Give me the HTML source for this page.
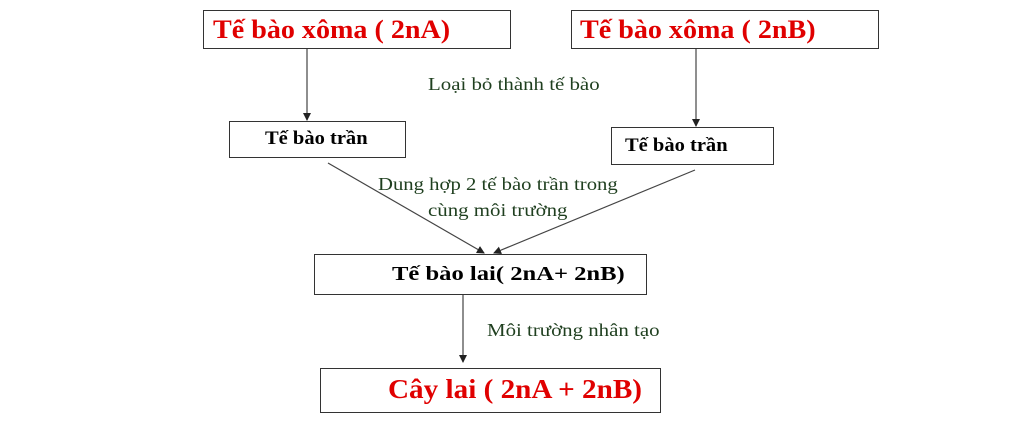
<!DOCTYPE html>
<html><head><meta charset="utf-8"><style>
body{margin:0;width:1023px;height:430px;background:#fff;position:relative;overflow:hidden;font-family:"Liberation Serif",serif}
.b{position:absolute;border:1.5px solid #333;box-sizing:border-box;background:#fff}
.t{position:absolute;white-space:nowrap;transform-origin:0 0}
.r{color:#e00000;font-weight:bold;font-size:26px;transform:scaleX(1.08)}
.k{color:#000;font-weight:bold;font-size:19px;transform:scaleX(1.08)}
.g{color:#1f3f1f;font-size:18px;transform:scaleX(1.16)}
</style></head><body>
<svg width="1023" height="430" style="position:absolute;left:0;top:0">
<defs><marker id="a" markerWidth="8" markerHeight="8" refX="7" refY="4" orient="auto" markerUnits="userSpaceOnUse"><path d="M0,0L8,4L0,8z" fill="#222"/></marker></defs>
<g stroke="#444" stroke-width="1.2" fill="none">
<line x1="307" y1="49" x2="307" y2="120" marker-end="url(#a)"/>
<line x1="696" y1="49" x2="696" y2="126" marker-end="url(#a)"/>
<line x1="328" y1="163" x2="484" y2="253" marker-end="url(#a)"/>
<line x1="695" y1="170" x2="494" y2="253" marker-end="url(#a)"/>
<line x1="463" y1="295" x2="463" y2="362" marker-end="url(#a)"/>
</g></svg>
<div class="b" style="left:203px;top:10px;width:308px;height:39px"></div>
<div class="t r" style="left:213px;top:15px">Tế bào xôma ( 2nA)</div>
<div class="b" style="left:571px;top:10px;width:308px;height:39px"></div>
<div class="t r" style="left:580px;top:15px">Tế bào xôma ( 2nB)</div>
<div class="t g" style="left:428px;top:74px">Loại bỏ thành tế bào</div>
<div class="b" style="left:229px;top:121px;width:177px;height:37px"></div>
<div class="t k" style="left:265px;top:128px">Tế bào trần</div>
<div class="b" style="left:611px;top:127px;width:163px;height:38px"></div>
<div class="t k" style="left:625px;top:135px">Tế bào trần</div>
<div class="t g" style="left:378px;top:174px;transform:scaleX(1.15)">Dung hợp 2 tế bào trần trong</div>
<div class="t g" style="left:428px;top:200px">cùng môi trường</div>
<div class="b" style="left:314px;top:254px;width:333px;height:41px"></div>
<div class="t k" style="left:392px;top:263px;font-size:20px;transform:scaleX(1.23)">Tế bào lai( 2nA+ 2nB)</div>
<div class="t g" style="left:487px;top:320px">Môi trường nhân tạo</div>
<div class="b" style="left:320px;top:368px;width:341px;height:45px"></div>
<div class="t r" style="left:388px;top:374px;font-size:27px">Cây lai ( 2nA + 2nB)</div>
</body></html>
